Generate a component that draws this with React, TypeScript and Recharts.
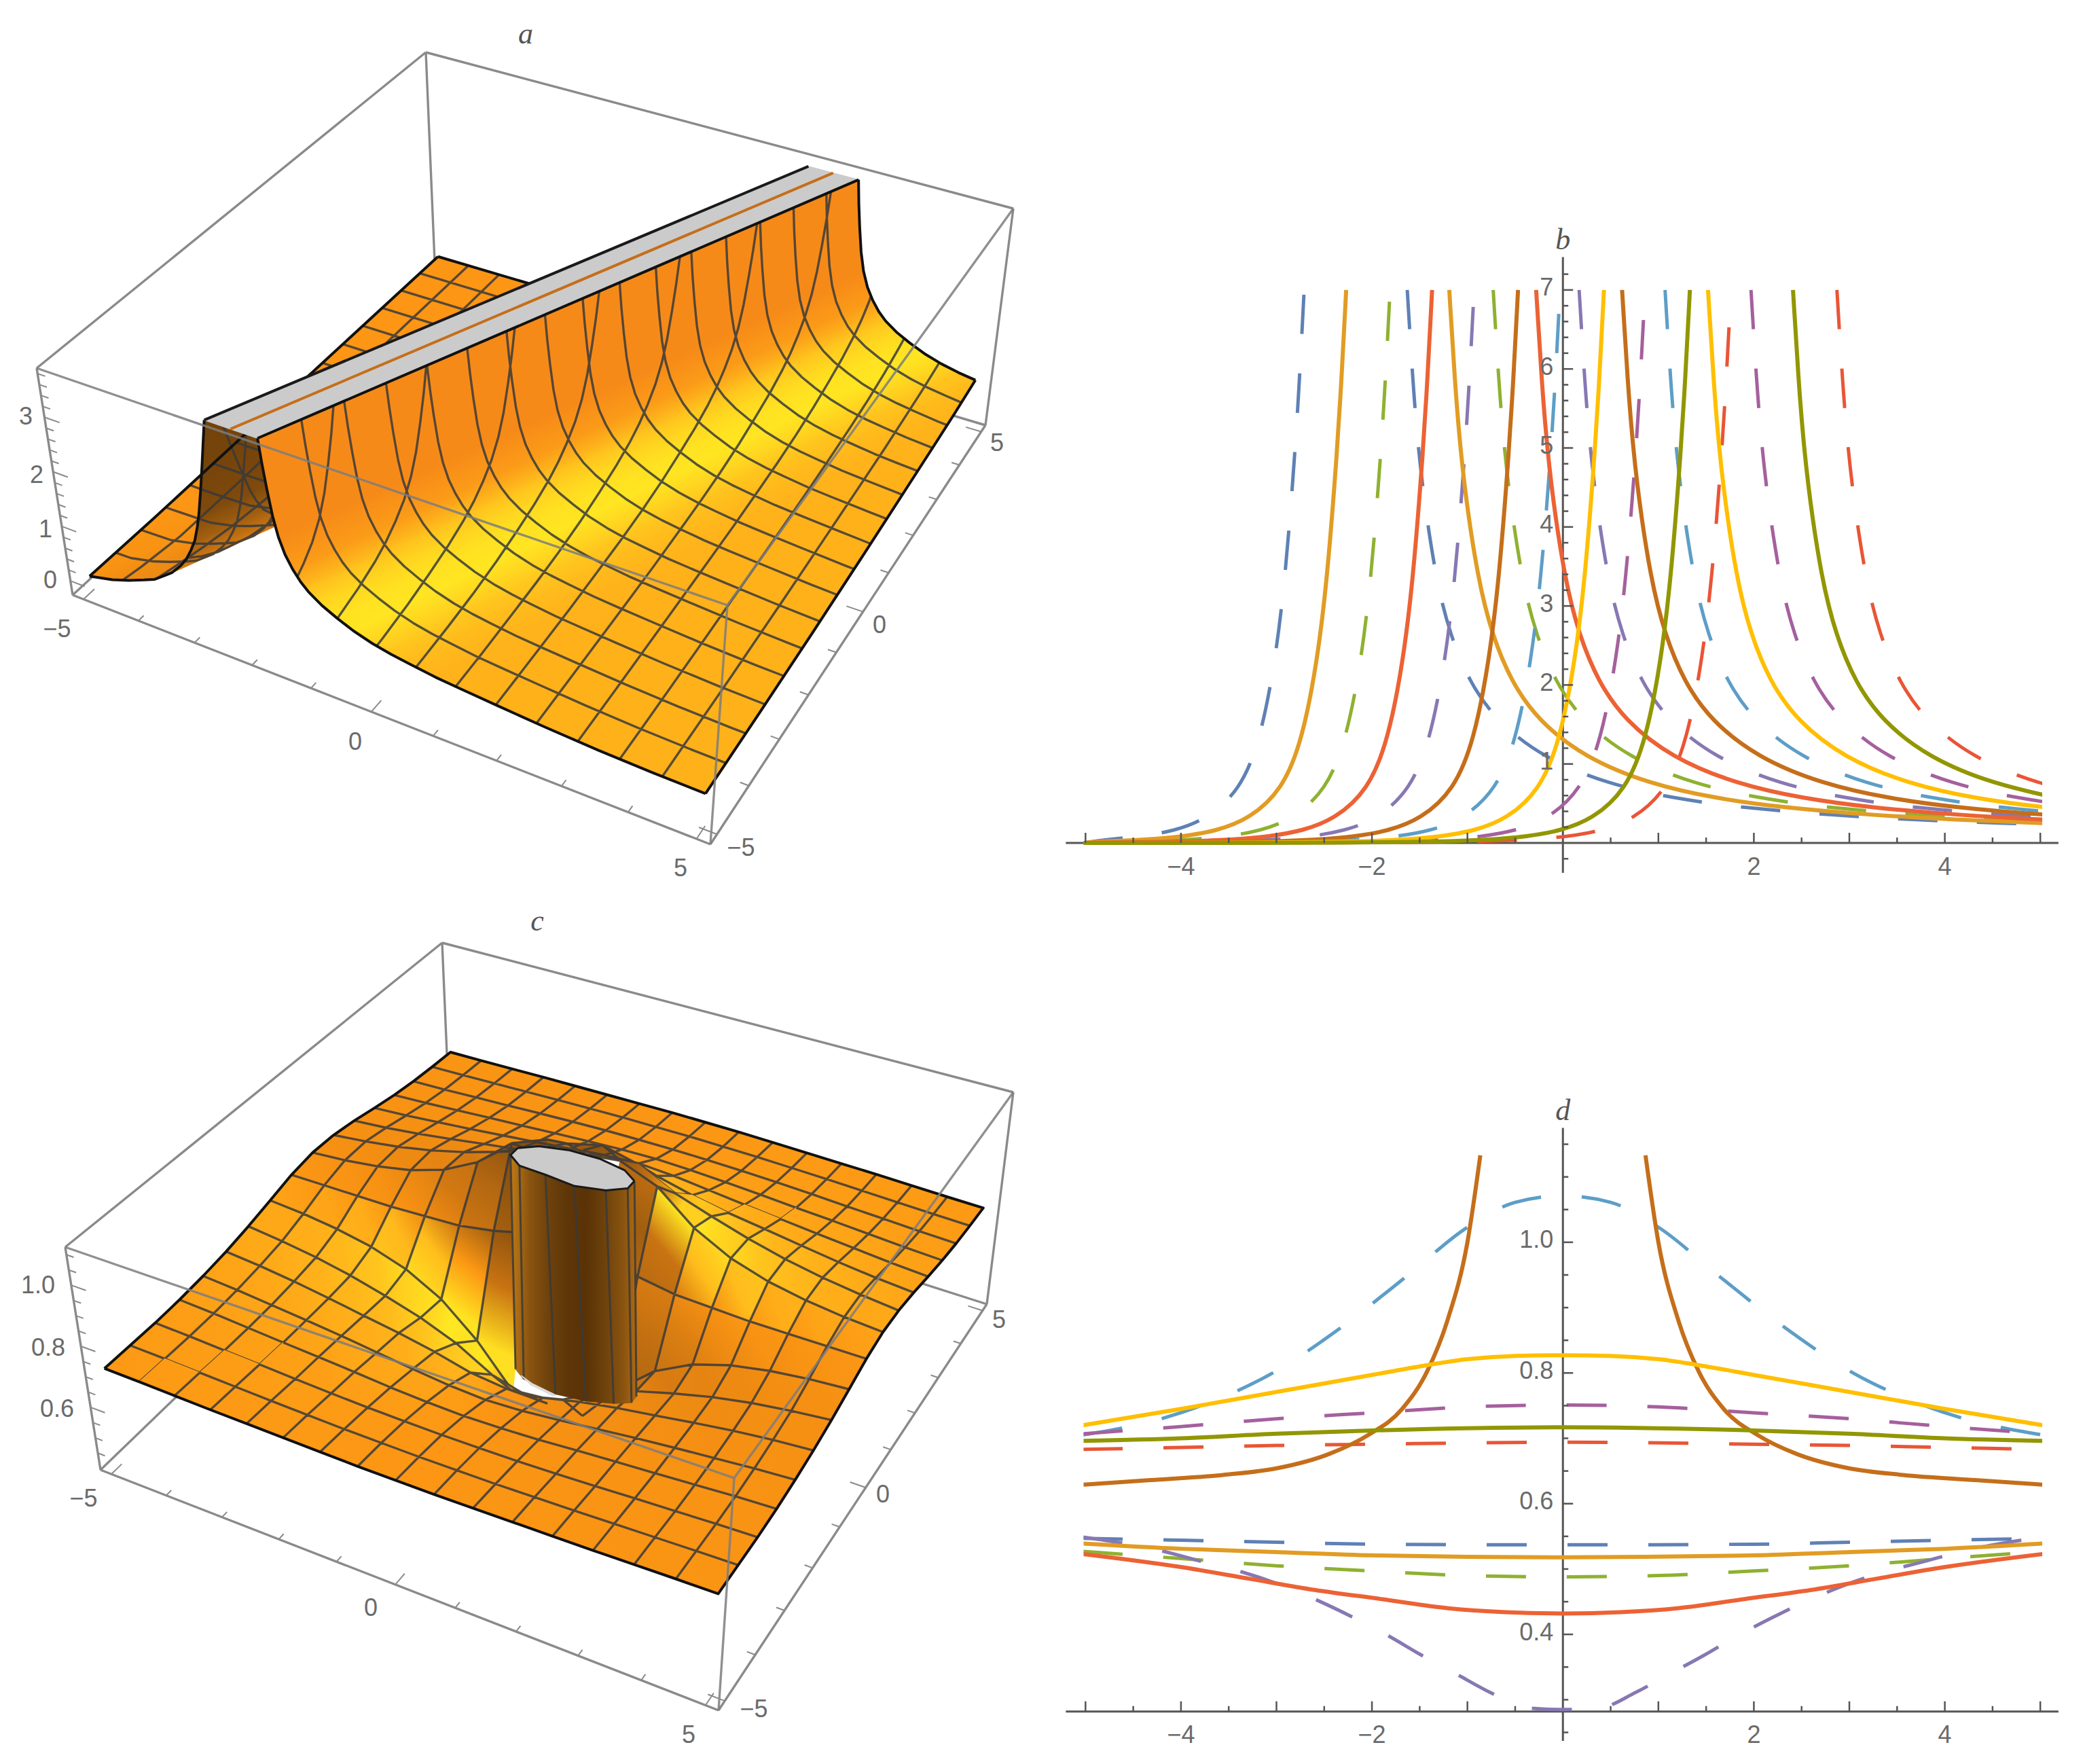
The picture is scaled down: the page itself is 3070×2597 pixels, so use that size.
import React from 'react';
import { ComposedChart, LineChart, Line, Area, Scatter, XAxis, YAxis, ReferenceLine, ReferenceDot } from 'recharts';

// ---------- palette ----------
const C = { blue: '#5E81B5', orange: '#E19C24', green: '#8FB131', red: '#EC6235', purple: '#8778B3', brown: '#C56E1A', sky: '#5D9EC7', yellow: '#FFBF00', magenta: '#A5609D', olive: '#929600', crimson: '#E95536' };

// ---------- panel b : shared height levels, x positions read per curve ----------
const bRiseLevels = [7, 5.6, 4.55, 3.35, 2.32, 1.3, 0.67, 0.3, 0.153, 0.082, 0.041, 0.018, 0.0074, 0.0025, 0.00075, 0.0001];
const bFallLevels = [7, 5.6, 4.55, 3.33, 2.63, 2.04, 1.55, 1.08, 0.746, 0.562, 0.448, 0.355, 0.294, 0.25, 0.217, 0.192];

const bBlueRise = [-2.71, -2.77, -2.83, -2.91, -3.01, -3.17, -3.38, -3.73, -4.07, -4.41, -4.81, -5.31];
const bOrangeRise = [-2.27, -2.33, -2.39, -2.47, -2.57, -2.73, -2.94, -3.29, -3.63, -3.97, -4.37, -4.87, -5.47];
const bGreenRise = [-1.81, -1.87, -1.93, -2.01, -2.11, -2.27, -2.48, -2.83, -3.17, -3.51, -3.91, -4.41, -5.01, -5.81];
const bRedRise = [-1.37, -1.43, -1.49, -1.57, -1.67, -1.83, -2.04, -2.39, -2.73, -3.07, -3.47, -3.97, -4.57, -5.37];
const bPurpleRise = [-0.93, -0.99, -1.05, -1.13, -1.23, -1.39, -1.6, -1.95, -2.29, -2.63, -3.03, -3.53, -4.13, -4.93, -5.93];
const bBrownRise = [-0.47, -0.53, -0.59, -0.67, -0.77, -0.93, -1.14, -1.49, -1.83, -2.17, -2.57, -3.07, -3.67, -4.47, -5.47];
const bSkyRise = [-0.03, -0.09, -0.15, -0.23, -0.33, -0.49, -0.7, -1.05, -1.39, -1.73, -2.13, -2.63, -3.23, -4.03, -5.03];
const bYellowRise = [0.43, 0.37, 0.31, 0.23, 0.13, -0.03, -0.24, -0.59, -0.93, -1.27, -1.67, -2.17, -2.77, -3.57, -4.57, -6.57];
const bMagentaRise = [0.86, 0.8, 0.74, 0.66, 0.56, 0.4, 0.19, -0.16, -0.5, -0.84, -1.24, -1.74, -2.34, -3.14, -4.14, -6.14];
const bOliveRise = [1.33, 1.27, 1.21, 1.13, 1.03, 0.87, 0.66, 0.31, -0.03, -0.37, -0.77, -1.27, -1.87, -2.67, -3.67, -5.67];
const bCrimsonRise = [1.76, 1.7, 1.64, 1.56, 1.46, 1.3, 1.09, 0.74, 0.4, 0.06, -0.34, -0.84, -1.44, -2.24, -3.24, -5.24];

const bBlueFall = [-1.63, -1.56, -1.48, -1.33, -1.18, -0.98, -0.7, -0.21, 0.47, 1.17, 1.87, 2.77, 3.67, 4.57, 5.47];
const bOrangeFall = [-1.19, -1.12, -1.04, -0.89, -0.74, -0.54, -0.26, 0.23, 0.91, 1.61, 2.31, 3.21, 4.11, 5.01, 5.91];
const bGreenFall = [-0.73, -0.66, -0.58, -0.43, -0.28, -0.08, 0.2, 0.69, 1.37, 2.07, 2.77, 3.67, 4.57, 5.47];
const bRedFall = [-0.28, -0.21, -0.13, 0.02, 0.17, 0.37, 0.65, 1.14, 1.82, 2.52, 3.22, 4.12, 5.02, 5.92];
const bPurpleFall = [0.17, 0.24, 0.32, 0.47, 0.62, 0.82, 1.1, 1.59, 2.27, 2.97, 3.67, 4.57, 5.47];
const bBrownFall = [0.62, 0.69, 0.77, 0.92, 1.07, 1.27, 1.55, 2.04, 2.72, 3.42, 4.12, 5.02, 5.92];
const bSkyFall = [1.07, 1.14, 1.22, 1.37, 1.52, 1.72, 2, 2.49, 3.17, 3.87, 4.57, 5.47];
const bYellowFall = [1.52, 1.59, 1.67, 1.82, 1.97, 2.17, 2.45, 2.94, 3.62, 4.32, 5.02, 5.92];
const bMagentaFall = [1.97, 2.04, 2.12, 2.27, 2.42, 2.62, 2.9, 3.39, 4.07, 4.77, 5.47];
const bOliveFall = [2.41, 2.48, 2.56, 2.71, 2.86, 3.06, 3.34, 3.83, 4.51, 5.21];
const bCrimsonFall = [2.87, 2.94, 3.02, 3.17, 3.32, 3.52, 3.8, 4.29, 4.97, 5.67];

// ---------- panel d : curves are even in x, right half read ----------
const dBrownX = [0.865, 1, 1.21, 1.42, 1.69, 2.04, 2.45, 3, 3.56, 4.32, 5.03];
const dBrownY = [1.133, 1.0, 0.88, 0.803, 0.744, 0.705, 0.676, 0.654, 0.644, 0.636, 0.629];
const dYellowX = [0, 0.5, 1, 1.5, 2, 3, 4, 5.03];
const dYellowY = [0.827, 0.826, 0.821, 0.81, 0.797, 0.771, 0.745, 0.72];
const dSkyX = [0, 0.5, 1, 1.62, 2.32, 3.04, 3.77, 4.18, 5.03];
const dSkyY = [1.071, 1.061, 1.023, 0.95, 0.87, 0.8, 0.751, 0.731, 0.705];
const dMagentaX = [0, 1, 2, 3, 4, 5.03];
const dMagentaY = [0.751, 0.748, 0.739, 0.73, 0.718, 0.707];
const dFlatX = [0, 2, 3, 4, 5.03];
const dOliveY = [0.717, 0.712, 0.707, 0.7, 0.696];
const dCrimsonY = [0.694, 0.691, 0.689, 0.686, 0.683];
const dBlueY = [0.537, 0.538, 0.541, 0.544, 0.547];
const dOrangeY = [0.518, 0.521, 0.526, 0.531, 0.539];
const dGreenX = [0, 1, 2, 3, 4, 5.03];
const dGreenY = [0.488, 0.49, 0.497, 0.505, 0.516, 0.527];
const dRedX = [0, 0.6, 1.2, 1.9, 2.6, 3.28, 4, 5.03];
const dRedY = [0.432, 0.434, 0.44, 0.454, 0.468, 0.485, 0.503, 0.523];
const dPurpleX = [0, 0.4, 0.76, 1.1, 1.49, 1.83, 2.21, 2.6, 3, 3.35, 3.77, 4.18, 5.03];
const dPurpleY = [0.285, 0.288, 0.311, 0.338, 0.369, 0.398, 0.427, 0.454, 0.478, 0.495, 0.511, 0.527, 0.549];

// ---------- panel a : ridge profile, height against distance from the ridge line ----------
const aRidgeSlope = 0.448;
const aRidgeOffset = 0.07;
const aCap = 3.8;
const aLeftU = [-7.5, -5, -3.5, -2.83, -2.4, -2.09, -1.8, -1.6, -1.4, -1.27, -1.1, -0.98, -0.88, -0.79, -0.72, -0.67, -0.6, -0.53, -0.42];
const aLeftZ = [0, 0, 0, 0.02, 0.12, 0.23, 0.35, 0.44, 0.59, 0.69, 0.88, 1.05, 1.25, 1.47, 1.75, 2.0, 2.45, 2.95, 3.8];
const aRightU = [0.43, 0.47, 0.52, 0.58, 0.65, 0.74, 0.85, 0.97, 1.1, 1.3, 1.54, 1.8, 2.1, 2.4, 2.7, 3.1, 3.5, 4.07, 4.8, 5.61, 6.4, 7.5];
const aRightZ = [3.8, 3.35, 2.9, 2.45, 2.1, 1.82, 1.6, 1.42, 1.28, 1.13, 1.0, 0.88, 0.78, 0.71, 0.66, 0.6, 0.56, 0.51, 0.45, 0.4, 0.37, 0.35];

// ---------- panel c : height table, rows y=-5..5, columns x=0..5 (even in x) ----------
const cHalfRows = [
  [0.7, 0.7, 0.702, 0.704, 0.706, 0.708, 0.711, 0.714, 0.716],
  [0.693, 0.694, 0.695, 0.698, 0.701, 0.705, 0.709, 0.713, 0.716],
  [0.683, 0.684, 0.686, 0.69, 0.695, 0.701, 0.706, 0.712, 0.716],
  [0.665, 0.668, 0.674, 0.683, 0.691, 0.698, 0.706, 0.714, 0.72],
  [0.64, 0.646, 0.658, 0.672, 0.686, 0.698, 0.709, 0.72, 0.728],
  [0.6, 0.612, 0.64, 0.662, 0.68, 0.699, 0.716, 0.73, 0.74],
  [0.5, 0.53, 0.595, 0.64, 0.674, 0.704, 0.727, 0.744, 0.757],
  [0.4, 0.4, 0.53, 0.63, 0.693, 0.731, 0.754, 0.769, 0.778],
  [1.0, 0.86, 0.83, 0.81, 0.805, 0.8, 0.8, 0.8, 0.8],
  [1.11, 1.11, 1.061, 0.96, 0.897, 0.859, 0.836, 0.821, 0.812],
  [1.06, 1.03, 0.97, 0.929, 0.892, 0.862, 0.839, 0.822, 0.809],
  [0.94, 0.925, 0.895, 0.872, 0.855, 0.837, 0.82, 0.806, 0.796],
  [0.865, 0.858, 0.845, 0.832, 0.82, 0.808, 0.797, 0.786, 0.778],
  [0.815, 0.812, 0.806, 0.799, 0.791, 0.784, 0.776, 0.768, 0.762],
  [0.783, 0.782, 0.78, 0.776, 0.771, 0.765, 0.76, 0.754, 0.75],
  [0.765, 0.764, 0.763, 0.76, 0.757, 0.753, 0.749, 0.745, 0.742],
  [0.752, 0.752, 0.75, 0.748, 0.746, 0.744, 0.741, 0.738, 0.736],
];
const cCapZ = 1.11;
const cFloorZ = 0.4;
const cTopRingX = [1.06, 0.8, 0.34, -0.18, -0.64, -0.9, -0.9, -0.64, -0.18, 0.34, 0.8, 1.06];
const cTopRingY = [0.24, 0.43, 0.53, 0.52, 0.4, 0.2, -0.02, -0.21, -0.24, -0.3, -0.18, 0.02];
const cLowRingX = [1.154, 0.915, 0.5, 0.02, -0.4, -0.64, -0.86, -0.62, 0.0, 0.5, 0.915, 1.154];
const cLowRingY = [0.2, 0.343, 0.421, 0.413, 0.321, 0.17, -0.12, -0.28, -0.36, -0.28, -0.121, 0.03];
const cSliverX = [-0.7, -0.45, 0.02, -0.02, -0.45];
const cSliverY = [-0.22, -0.31, -0.38, -0.42, -0.35];

// ---------- axis text ----------
const xMajor2D = [-4, -2, 2, 4];
const bYLabels = [1, 2, 3, 4, 5, 6, 7];
const dYLabels = [0.4, 0.6, 0.8, 1.0];
const surfaceTicks = [-5, -4, -3, -2, -1, 0, 1, 2, 3, 4, 5];

const seq = (a: number, b: number, s: number) => { const o: number[] = []; for (let i = 0; a + i * s <= b + 1e-9; i++) o.push(+(a + i * s).toFixed(3)); return o; };
const zip = (xs: number[], ys: number[]) => xs.map((x, i) => ({ x, y: ys[i] }));
const riseRows = (xs: number[]) => { const r = zip(xs, bRiseLevels).filter((p) => p.x > -5.02).reverse(); return [{ x: -5.02, y: 0.0005 }, ...r]; };
const mirror = (xs: number[], ys: number[]) => { const l = zip(xs, ys).filter((p) => p.x > 0).map((p) => ({ x: -p.x, y: p.y })).reverse(); return [...l, ...zip(xs, ys)]; };

// ---------- 2D panels ----------
const W2 = 1462; const ML = 26.5; const MR = 24; const XMAX = 5.02;
const AXIS = '#555555'; const TXT = '#6a6a6a'; const FONT = '"Liberation Sans", Arial, sans-serif';
type Curve = { k: string; c: string; dash: boolean; rows: { x: number; y: number }[] };

function Plot2D({ left, top, height, mt, mb, ymin, ymax, cross, yMinor, yMajor, fmt, curves, title, dash, curve }: any) {
  const plotH = height - mt - mb; const plotW = W2 - ML - MR;
  const axisY = mt + (plotH * (ymax - cross)) / (ymax - ymin);
  const axisX = ML + plotW / 2;
  const XTick = (p: any) => {
    const v = p.payload.value; const major = Math.abs(v) % 1 < 1e-6;
    return (<g><line x1={p.x} x2={p.x} y1={axisY} y2={axisY - (major ? 15 : 8)} stroke={AXIS} strokeWidth={2.5} />
      {xMajor2D.includes(v) ? <text x={p.x} y={axisY + 34} textAnchor="middle" dominantBaseline="central" fill={TXT} fontSize={36} fontFamily={FONT}>{v < 0 ? `−${-v}` : v}</text> : null}</g>);
  };
  const YTick = (p: any) => {
    const v = p.payload.value; const major = yMajor.some((m: number) => Math.abs(m - v) < 1e-6);
    return (<g><line x1={axisX} x2={axisX + (major ? 15 : 8)} y1={p.y} y2={p.y} stroke={AXIS} strokeWidth={2.5} />
      {major ? <text x={axisX - 14} y={p.y - 4} textAnchor="end" dominantBaseline="central" fill={TXT} fontSize={36} fontFamily={FONT}>{fmt(v)}</text> : null}</g>);
  };
  return (
    <div style={{ position: 'absolute', left, top }}>
      <LineChart width={W2} height={height} margin={{ top: mt, bottom: mb - 1, left: ML - 1, right: MR }}>
        <XAxis type="number" dataKey="x" domain={[-XMAX, XMAX]} allowDataOverflow height={1} axisLine={false} tickLine={false} ticks={seq(-5, 5, 0.5).filter((t) => t !== 0)} interval={0} tick={XTick} />
        <YAxis type="number" domain={[ymin, ymax]} width={1} axisLine={false} tickLine={false} ticks={yMinor} interval={0} tick={YTick} />
        <ReferenceLine ifOverflow="visible" segment={[{ x: -5.206, y: cross }, { x: 5.19, y: cross }]} stroke={AXIS} strokeWidth={3} />
        <ReferenceLine ifOverflow="visible" segment={[{ x: 0, y: ymin }, { x: 0, y: ymax }]} stroke={AXIS} strokeWidth={3} />
        <ReferenceDot ifOverflow="visible" x={0} y={ymax} r={0} label={{ value: title, position: 'top', offset: 12, fontSize: 44, fontStyle: 'italic', fill: '#555', fontFamily: '"Liberation Serif", serif' }} />
        {curves.map((c: Curve) => (
          <Line key={c.k} data={c.rows} dataKey="y" type={curve} stroke={c.c} strokeWidth={c.dash ? 5 : 6} strokeDasharray={c.dash ? dash : undefined} dot={false} activeDot={false} isAnimationActive={false} legendType="none" />
        ))}
      </LineChart>
    </div>
  );
}

const bCurves: Curve[] = [
  { k: 'blueR', c: C.blue, dash: true, rows: riseRows(bBlueRise) }, { k: 'blueF', c: C.blue, dash: true, rows: zip(bBlueFall, bFallLevels) },
  { k: 'greenR', c: C.green, dash: true, rows: riseRows(bGreenRise) }, { k: 'greenF', c: C.green, dash: true, rows: zip(bGreenFall, bFallLevels) },
  { k: 'purpleR', c: C.purple, dash: true, rows: riseRows(bPurpleRise) }, { k: 'purpleF', c: C.purple, dash: true, rows: zip(bPurpleFall, bFallLevels) },
  { k: 'skyR', c: C.sky, dash: true, rows: riseRows(bSkyRise) }, { k: 'skyF', c: C.sky, dash: true, rows: zip(bSkyFall, bFallLevels) },
  { k: 'magR', c: C.magenta, dash: true, rows: riseRows(bMagentaRise) }, { k: 'magF', c: C.magenta, dash: true, rows: zip(bMagentaFall, bFallLevels) },
  { k: 'crimR', c: C.crimson, dash: true, rows: riseRows(bCrimsonRise) }, { k: 'crimF', c: C.crimson, dash: true, rows: zip(bCrimsonFall, bFallLevels) },
  { k: 'orangeR', c: C.orange, dash: false, rows: riseRows(bOrangeRise) }, { k: 'orangeF', c: C.orange, dash: false, rows: zip(bOrangeFall, bFallLevels) },
  { k: 'redR', c: C.red, dash: false, rows: riseRows(bRedRise) }, { k: 'redF', c: C.red, dash: false, rows: zip(bRedFall, bFallLevels) },
  { k: 'brownR', c: C.brown, dash: false, rows: riseRows(bBrownRise) }, { k: 'brownF', c: C.brown, dash: false, rows: zip(bBrownFall, bFallLevels) },
  { k: 'yellowR', c: C.yellow, dash: false, rows: riseRows(bYellowRise) }, { k: 'yellowF', c: C.yellow, dash: false, rows: zip(bYellowFall, bFallLevels) },
  { k: 'oliveR', c: C.olive, dash: false, rows: riseRows(bOliveRise) }, { k: 'oliveF', c: C.olive, dash: false, rows: zip(bOliveFall, bFallLevels) },
];

const dCurves: Curve[] = [
  { k: 'blue', c: C.blue, dash: true, rows: mirror(dFlatX, dBlueY) },
  { k: 'green', c: C.green, dash: true, rows: mirror(dGreenX, dGreenY) },
  { k: 'purple', c: C.purple, dash: true, rows: mirror(dPurpleX, dPurpleY) },
  { k: 'sky', c: C.sky, dash: true, rows: mirror(dSkyX, dSkyY) },
  { k: 'magenta', c: C.magenta, dash: true, rows: mirror(dMagentaX, dMagentaY) },
  { k: 'crimson', c: C.crimson, dash: true, rows: mirror(dFlatX, dCrimsonY) },
  { k: 'orange', c: C.orange, dash: false, rows: mirror(dFlatX, dOrangeY) },
  { k: 'red', c: C.red, dash: false, rows: mirror(dRedX, dRedY) },
  { k: 'brownL', c: C.brown, dash: false, rows: zip(dBrownX, dBrownY).map((p) => ({ x: -p.x, y: p.y })).reverse() },
  { k: 'brownR', c: C.brown, dash: false, rows: zip(dBrownX, dBrownY) },
  { k: 'yellow', c: C.yellow, dash: false, rows: mirror(dYellowX, dYellowY) },
  { k: 'olive', c: C.olive, dash: false, rows: mirror(dFlatX, dOliveY) },
];

// ---------- 3D view helpers ----------
type Pt = { x: number; y: number };
type Box = { L: Pt; F: Pt; R: Pt; B: Pt; TL: Pt; TF: Pt; TR: Pt; TB: Pt; zmin: number; zmax: number };
const MESH = '#3a3a3a'; const MESHW = 3.4; const MESHOP = 0.85;
const homography = (p00: Pt, p10: Pt, p11: Pt, p01: Pt) => {
  const dx1 = p10.x - p11.x, dx2 = p01.x - p11.x, sx = p00.x - p10.x + p11.x - p01.x;
  const dy1 = p10.y - p11.y, dy2 = p01.y - p11.y, sy = p00.y - p10.y + p11.y - p01.y;
  const den = dx1 * dy2 - dx2 * dy1;
  const g = (sx * dy2 - dx2 * sy) / den, h = (dx1 * sy - sx * dy1) / den;
  const a = p10.x - p00.x + g * p10.x, b = p01.x - p00.x + h * p01.x, c = p00.x;
  const d = p10.y - p00.y + g * p10.y, e = p01.y - p00.y + h * p01.y, f = p00.y;
  return (u: number, v: number): Pt => { const w = g * u + h * v + 1; return { x: (a * u + b * v + c) / w, y: (d * u + e * v + f) / w }; };
};
const makeProj = (b: Box) => {
  const lo = homography(b.L, b.F, b.R, b.B); const hi = homography(b.TL, b.TF, b.TR, b.TB);
  return (x: number, y: number, z: number): Pt => {
    const u = (x + 5.2) / 10.4, v = (y + 5.2) / 10.4, w = (z - b.zmin) / (b.zmax - b.zmin);
    const p = lo(u, v), q = hi(u, v);
    return { x: p.x + (q.x - p.x) * w, y: p.y + (q.y - p.y) * w };
  };
};
const envelope = (poly: Pt[]) => {
  const xs = Array.from(new Set(poly.map((p) => +p.x.toFixed(2)))).sort((a, b) => a - b);
  if (xs.length < 2) return [];
  return xs.map((x) => {
    const ys: number[] = [];
    poly.forEach((p, i) => {
      const q = poly[(i + 1) % poly.length];
      const x1 = +p.x.toFixed(2), x2 = +q.x.toFixed(2);
      if (x < Math.min(x1, x2) || x > Math.max(x1, x2)) return;
      if (x1 === x2) { ys.push(p.y, q.y); return; }
      ys.push(p.y + ((q.y - p.y) * (x - x1)) / (x2 - x1));
    });
    return { x, r: [Math.min(...ys), Math.max(...ys)] };
  });
};
const RAMP: [number, number[]][] = [
  [-15, [0x62, 0x38, 0x08]], [-8, [0x80, 0x4a, 0x0c]], [-4, [0xa4, 0x60, 0x10]], [-1.5, [0xd2, 0x78, 0x12]], [-0.5, [0xf0, 0x8c, 0x12]],
  [0, [0xfc, 0x96, 0x14]], [0.4, [0xff, 0xb0, 0x1a]], [0.9, [0xff, 0xd0, 0x20]], [1.5, [0xff, 0xe8, 0x22]], [3, [0xff, 0xc8, 0x1e]], [6, [0xfb, 0x9c, 0x18]], [12, [0xf6, 0x8a, 0x18]],
];
const shade = (t: number) => {
  const v = Math.max(-15, Math.min(12, t));
  for (let i = 0; i < RAMP.length - 1; i++) {
    const [a, ca] = RAMP[i]; const [b, cb] = RAMP[i + 1];
    if (v <= b) { const f = (v - a) / (b - a); return `rgb(${ca.map((c, k) => Math.round(c + (cb[k] - c) * f)).join(',')})`; }
  }
  return 'rgb(246,138,24)';
};
const grad = (id: string, p0: Pt, p1: Pt, stops: string[], top: number) => (
  <linearGradient key={id} id={id} gradientUnits="userSpaceOnUse" x1={p0.x} y1={p0.y - top} x2={p1.x} y2={p1.y - top}>
    {stops.map((s, i) => <stop key={i} offset={i / (stops.length - 1)} stopColor={s} />)}
  </linearGradient>
);
const BREAK = (p: Pt) => ({ x: p.x, y: null as any });
const joinPaths = (paths: Pt[][]) => { const o: any[] = []; paths.forEach((p) => { if (p.length < 2) return; o.push(...p); o.push(BREAK(p[p.length - 1])); }); return o; };
const polyLine = (k: string, rows: any[], stroke: string, w: number, op = 1) => (
  <Line key={k} data={rows} dataKey="y" type="linear" stroke={stroke} strokeWidth={w} strokeOpacity={op} strokeLinejoin="round" dot={false} activeDot={false} isAnimationActive={false} legendType="none" />
);
const patch = (k: string, poly: Pt[], fill: string) => {
  const rows = envelope(poly); if (!rows.length) return null;
  return <Area key={k} data={rows} dataKey="r" type="linear" fill={fill} fillOpacity={1} stroke={fill} strokeWidth={1.2} dot={false} activeDot={false} isAnimationActive={false} legendType="none" />;
};
const renderLabel = (p: any) => (
  <text x={p.cx} y={p.cy} textAnchor="middle" dominantBaseline="central" fill={p.payload.title ? '#555' : TXT} fontSize={p.payload.title ? 44 : 36} fontStyle={p.payload.title ? 'italic' : 'normal'} fontFamily={p.payload.title ? '"Liberation Serif", serif' : FONT}>{p.payload.text}</text>
);
const boxBack = (b: Box) => [[b.TB, b.TL], [b.TB, b.TR], [b.TB, b.B], [b.B, b.L], [b.B, b.R], [b.L, b.TL], [b.R, b.TR], [b.L, b.F], [b.F, b.R]];
const boxFront = (b: Box) => [[b.TL, b.TF], [b.TF, b.TR], [b.TF, b.F]];
const tickPaths = (b: Box, zMajor: number[], zMinor: number[]) => {
  const P = makeProj(b); const out: Pt[][] = [];
  surfaceTicks.forEach((t) => {
    const len = t % 5 === 0 ? 0.26 : 0.13;
    out.push([P(t, -5.2, b.zmin), P(t, -5.2 + len, b.zmin)]);
    out.push([P(5.2, t, b.zmin), P(5.2 - len, t, b.zmin)]);
  });
  zMajor.forEach((z) => out.push([P(-5.2, -5.2, z), P(-4.94, -5.2, z)]));
  zMinor.forEach((z) => out.push([P(-5.2, -5.2, z), P(-5.07, -5.2, z)]));
  return out;
};
const Layer3D = ({ top, height, children }: any) => (
  <div style={{ position: 'absolute', left: 0, top }}>
    <ComposedChart width={1560} height={height} margin={{ top: 0, bottom: 0, left: 0, right: 0 }}>
      <XAxis type="number" dataKey="x" domain={[0, 1560]} hide />
      <YAxis type="number" dataKey="y" domain={[top, top + height]} reversed hide />
      {children}
    </ComposedChart>
  </div>
);

// ---------- panel a ----------
const aBox: Box = { L: { x: 107, y: 876 }, F: { x: 1046, y: 1243 }, R: { x: 1451, y: 626 }, B: { x: 640, y: 385 }, TL: { x: 54, y: 542 }, TF: { x: 1071, y: 891 }, TR: { x: 1492, y: 307 }, TB: { x: 627, y: 77 }, zmin: -0.26, zmax: 3.9 };
const aP = makeProj(aBox);
const ridge = (y: number) => aRidgeSlope * y + aRidgeOffset;
const clipX = (poly: Pt[]) => {
  const cut = (pts: Pt[], inside: (p: Pt) => boolean, X: number) => {
    const o: Pt[] = [];
    pts.forEach((p, i) => {
      const q = pts[(i + 1) % pts.length];
      if (inside(p)) o.push(p);
      if (inside(p) !== inside(q)) { const f = (X - p.x) / (q.x - p.x); o.push({ x: X, y: p.y + (q.y - p.y) * f }); }
    });
    return o;
  };
  return cut(cut(poly, (p) => p.x >= -5, -5), (p) => p.x <= 5, 5);
};
const stripPoly = (u0: number, z0: number, u1: number, z1: number) => {
  const q = clipX([{ x: u0 + ridge(-5), y: -5 }, { x: u1 + ridge(-5), y: -5 }, { x: u1 + ridge(5), y: 5 }, { x: u0 + ridge(5), y: 5 }]);
  return q.map((p) => { const u = p.x - ridge(p.y); const z = u1 === u0 ? z0 : z0 + ((z1 - z0) * (u - u0)) / (u1 - u0); return aP(p.x, p.y, z); });
};
const aTone = (us: number[], zs: number[], i: number, gain: number, floorTone: number) => {
  const a = Math.max(0, i - 1), b = Math.min(us.length - 1, i + 1);
  const t = -((zs[b] - zs[a]) / (us[b] - us[a])) * gain;
  return gain > 2 ? Math.max(floorTone, t) : t;
};
const stripDefs = (pre: string, us: number[], zs: number[], gain: number) => us.slice(0, -1).map((u, i) => {
  const p0 = aP(u + ridge(0), 0, zs[i]); const p1 = aP(us[i + 1] + ridge(0), 0, zs[i + 1]);
  const e0 = aP(u + ridge(-5), -5, zs[i]); const e1 = aP(u + ridge(5), 5, zs[i]);
  const sx = e1.x - e0.x, sy = e1.y - e0.y, n = Math.hypot(sx, sy);
  const vx = p1.x - p0.x, vy = p1.y - p0.y, dot = (vx * sx + vy * sy) / n;
  const end = { x: p0.x + vx - (dot * sx) / n, y: p0.y + vy - (dot * sy) / n };
  return grad(`${pre}g${i}`, p0, end, [shade(aTone(us, zs, i, gain, 0.42)), shade(aTone(us, zs, i + 1, gain, 0.42))], 0);
});
const strips = (pre: string, us: number[], zs: number[]) => us.slice(0, -1).map((u, i) => patch(`${pre}${i}`, stripPoly(u, zs[i], us[i + 1], zs[i + 1]), `url(#${pre}g${i})`));
const zAt = (us: number[], zs: number[], u: number) => {
  for (let i = 0; i < us.length - 1; i++) if (u <= us[i + 1]) return zs[i] + ((zs[i + 1] - zs[i]) * (u - us[i])) / (us[i + 1] - us[i]);
  return zs[zs.length - 1];
};
const alongU = (us: number[], zs: number[], lo: number, hi: number, at: (u: number) => Pt) => {
  const a = Math.max(lo, us[0]), b = Math.min(hi, us[us.length - 1]);
  if (a >= b) return [];
  const nodes = [a, ...us.filter((u) => u > a && u < b), b];
  return nodes.map((u) => { const p = at(u); return aP(p.x, p.y, zAt(us, zs, u)); });
};
const meshLevels = seq(-4.375, 4.375, 0.625);
const aMesh = (us: number[], zs: number[]) => {
  const out: Pt[][] = [];
  meshLevels.forEach((m) => {
    const c0 = ridge(-5), c1 = ridge(5);
    out.push(alongU(us, zs, m - c1, m - c0, (u) => ({ x: m, y: (m - u - aRidgeOffset) / aRidgeSlope })));
    const c = ridge(m);
    out.push(alongU(us, zs, -5 - c, 5 - c, (u) => ({ x: u + c, y: m })));
  });
  return out;
};
const aEdges = (us: number[], zs: number[]) => {
  const out: Pt[][] = [];
  [-5, 5].forEach((m) => { const c = ridge(m); out.push(alongU(us, zs, -5 - c, 5 - c, (u) => ({ x: u + c, y: m }))); });
  [-5, 5].forEach((m) => { const c0 = ridge(-5), c1 = ridge(5); out.push(alongU(us, zs, m - c1, m - c0, (u) => ({ x: m, y: (m - u - aRidgeOffset) / aRidgeSlope }))); });
  return out;
};
const ridgeEdge = (u: number) => [-5, 5].map((y) => aP(u + ridge(y), y, aCap));

const aLabels = [
  { x: 774, y: 49, text: 'a', title: true },
  { x: 84, y: 925, text: '−5' }, { x: 523, y: 1091, text: '0' }, { x: 1002, y: 1277, text: '5' },
  { x: 1091, y: 1247, text: '−5' }, { x: 1295, y: 919, text: '0' }, { x: 1468, y: 651, text: '5' },
  { x: 38, y: 612, text: '3' }, { x: 54, y: 698, text: '2' }, { x: 67, y: 778, text: '1' }, { x: 74, y: 853, text: '0' },
];

function PanelA() {
  const T = 0; const H = 1330;
  return (
    <>
      <Layer3D top={T} height={H}>
        {polyLine('aback', joinPaths(boxBack(aBox)), '#8a8a8a', 3.4)}
      </Layer3D>
      <Layer3D top={T} height={H}>
        <defs>{stripDefs('al2', aLeftU, aLeftZ, 1.4)}</defs>
        {strips('al2', aLeftU, aLeftZ)}
        {polyLine('amL', joinPaths(aMesh(aLeftU, aLeftZ)), MESH, MESHW, MESHOP)}
        {polyLine('aeL', joinPaths(aEdges(aLeftU, aLeftZ)), '#111', 4)}
      </Layer3D>
      <Layer3D top={T} height={H}>
        {patch('acap', stripPoly(-0.42, aCap, 0.43, aCap), '#CBCBCB')}
        {polyLine('acen', ridgeEdge(0), C.brown, 4)}
        {polyLine('acapL', ridgeEdge(-0.42), '#1a1a1a', 4)}
      </Layer3D>
      <Layer3D top={T} height={H}>
        <defs>{stripDefs('ar', aRightU, aRightZ, 3.6)}</defs>
        {strips('ar', aRightU, aRightZ)}
        {polyLine('amR', joinPaths(aMesh(aRightU, aRightZ)), MESH, MESHW, MESHOP)}
        {polyLine('aeR', joinPaths(aEdges(aRightU, aRightZ)), '#111', 4)}
        {polyLine('acapR', ridgeEdge(0.43), '#111', 4)}
      </Layer3D>
      <Layer3D top={T} height={H}>
        {polyLine('afront', joinPaths(boxFront(aBox)), '#7c7c7c', 3.4, 0.85)}
        {polyLine('aticks', joinPaths(tickPaths(aBox, [0, 1, 2, 3], seq(0.2, 3.8, 0.2))), '#8a8a8a', 2)}
        <Scatter data={aLabels} isAnimationActive={false} shape={renderLabel} legendType="none" />
      </Layer3D>
    </>
  );
}

// ---------- panel c ----------
const cBox: Box = { L: { x: 148, y: 2164 }, F: { x: 1058, y: 2518 }, R: { x: 1453, y: 1920 }, B: { x: 663, y: 1668 }, TL: { x: 96, y: 1836 }, TF: { x: 1081, y: 2176 }, TR: { x: 1492, y: 1608 }, TB: { x: 651, y: 1388 }, zmin: 0.395, zmax: 1.125 };
const cP = makeProj(cBox);
const cNodes = seq(-5, 5, 0.625);
const cRows = cHalfRows.map((r) => [...r.slice(1).reverse(), ...r]);
const isCore = (i: number, j: number) => (i === 7 || i === 8) && (j === 7 || j === 8);
const nodeP = (i: number, j: number) => cP(cNodes[i], cNodes[j], cRows[j][i]);
const depth = (x: number, y: number) => x - 0.9 * y;
const nodeT = (i: number, j: number) => {
  const a = Math.max(0, i - 1), b = Math.min(16, i + 1), c = Math.max(0, j - 1), d = Math.min(16, j + 1);
  const sx = ((cRows[j][b] - cRows[j][a]) / (cNodes[b] - cNodes[a])) * (10.4 / 0.73);
  const sy = ((cRows[d][i] - cRows[c][i]) / (cNodes[d] - cNodes[c])) * (10.4 / 0.73);
  return -sx - 0.8 * Math.max(0, sy - 1.8) - 40 * Math.max(0, cRows[j][i] - 0.95);
};

const cLabels = [
  { x: 791, y: 1355, text: 'c', title: true },
  { x: 123, y: 2205, text: '−5' }, { x: 546, y: 2366, text: '0' }, { x: 1014, y: 2553, text: '5' },
  { x: 1110, y: 2515, text: '−5' }, { x: 1300, y: 2199, text: '0' }, { x: 1471, y: 1942, text: '5' },
  { x: 56, y: 1891, text: '1.0' }, { x: 71, y: 1983, text: '0.8' }, { x: 84, y: 2073, text: '0.6' },
];

function PanelC() {
  const T = 1330; const H = 1267;
  const defs: any[] = []; const back: any[] = []; const front: any[] = [];
  const order: [number, number][] = [];
  for (let j = 0; j < 16; j++) for (let i = 0; i < 16; i++) order.push([i, j]);
  order.sort((a, b) => depth(cNodes[a[0]], cNodes[a[1]]) - depth(cNodes[b[0]], cNodes[b[1]]));
  order.forEach(([i, j]) => {
    if (isCore(i, j)) return;
    const id = `cg${i}_${j}`;
    const mid = shade((nodeT(i + 1, j) + nodeT(i, j + 1)) / 2);
    defs.push(grad(id, nodeP(i, j), nodeP(i + 1, j + 1), [shade(nodeT(i, j)), mid, shade(nodeT(i + 1, j + 1))], T));
    const el = patch(`c${i}_${j}`, [nodeP(i, j), nodeP(i + 1, j), nodeP(i + 1, j + 1), nodeP(i, j + 1)], `url(#${id})`);
    (depth(cNodes[i] + 0.31, cNodes[j] + 0.31) < 0 ? back : front).push(el);
  });
  const segBack: Pt[][] = []; const segFront: Pt[][] = [];
  const addSeg = (i: number, j: number, i2: number, j2: number) => {
    const core = Math.abs(cNodes[i]) < 0.7 && Math.abs(cNodes[j]) < 0.7 && Math.abs(cNodes[i2]) < 0.7 && Math.abs(cNodes[j2]) < 0.7;
    if (core) return;
    const d = depth((cNodes[i] + cNodes[i2]) / 2, (cNodes[j] + cNodes[j2]) / 2);
    (d < 0 ? segBack : segFront).push([nodeP(i, j), nodeP(i2, j2)]);
  };
  for (let a = 1; a < 16; a++) for (let b = 0; b < 16; b++) { addSeg(a, b, a, b + 1); addSeg(b, a, b + 1, a); }
  const edge: Pt[] = [];
  for (let i = 0; i <= 16; i++) edge.push(nodeP(i, 0));
  for (let j = 1; j <= 16; j++) edge.push(nodeP(16, j));
  for (let i = 15; i >= 0; i--) edge.push(nodeP(i, 16));
  for (let j = 15; j >= 0; j--) edge.push(nodeP(0, j));
  const topRing = cTopRingX.map((x, i) => cP(x, cTopRingY[i], cCapZ));
  const lowRing = cLowRingX.map((x, i) => cP(x, cLowRingY[i], cFloorZ));
  const sliver = cSliverX.map((x, i) => cP(x, cSliverY[i], cFloorZ));
  const under = [nodeP(5, 5), nodeP(11, 5), nodeP(11, 11), nodeP(5, 11)];
  const idx = [6, 7, 8, 9, 10, 11, 0];
  const wall = [...idx.map((i) => topRing[i]), ...idx.slice().reverse().map((i) => lowRing[i])];
  return (
    <>
      <Layer3D top={T} height={H}>
        <defs>{defs}</defs>
        {polyLine('cback', joinPaths(boxBack(cBox)), '#8a8a8a', 3.4)}
      </Layer3D>
      <Layer3D top={T} height={H}>
        {patch('cunder', under, '#B07012')}
      </Layer3D>
      <Layer3D top={T} height={H}>
        {back}
        {polyLine('cmB', joinPaths(segBack), MESH, MESHW, MESHOP)}
      </Layer3D>
      <Layer3D top={T} height={H}>
        {front}
        {polyLine('cmF', joinPaths(segFront), MESH, MESHW, MESHOP)}
      </Layer3D>
      <Layer3D top={T} height={H}>
        <defs>
          <linearGradient id="wallGrad" x1="0" x2="1" y1="0" y2="0">
            <stop offset="0" stopColor="#C07A14" /><stop offset="0.15" stopColor="#8A5410" /><stop offset="0.3" stopColor="#6E420C" /><stop offset="0.45" stopColor="#5E3608" /><stop offset="0.6" stopColor="#5A3206" /><stop offset="0.75" stopColor="#6E420C" /><stop offset="0.9" stopColor="#8A5410" /><stop offset="1" stopColor="#B06A10" />
          </linearGradient>
        </defs>
        {patch('cwall', wall, 'url(#wallGrad)')}
        {polyLine('cwl', joinPaths(idx.map((i) => [topRing[i], lowRing[i]])), MESH, 3, MESHOP)}
      </Layer3D>
      <Layer3D top={T} height={H}>
        {patch('chole', sliver, '#DADADA')}
        {patch('ccap', topRing, '#CBCBCB')}
        {polyLine('ccapE', [...topRing, topRing[0]], '#1a1a1a', 3)}
        {polyLine('cedge', edge, '#111', 4)}
      </Layer3D>
      <Layer3D top={T} height={H}>
        {polyLine('cfront', joinPaths(boxFront(cBox)), '#7c7c7c', 3.4, 0.85)}
        {polyLine('cticks', joinPaths(tickPaths(cBox, [0.6, 0.8, 1.0], [0.45, 0.5, 0.55, 0.65, 0.7, 0.75, 0.85, 0.9, 0.95, 1.05, 1.1])), '#8a8a8a', 2)}
        <Scatter data={cLabels} isAnimationActive={false} shape={renderLabel} legendType="none" />
      </Layer3D>
    </>
  );
}

export default function App() {
  return (
    <div style={{ position: 'absolute', left: 0, top: 0, width: 3070, height: 2597, background: '#fff', overflow: 'hidden' }}>
      <PanelA />
      <PanelC />
      <Plot2D left={1569} top={320} height={1000} mt={58.5} mb={35} ymin={-0.378} ymax={7.416} cross={0} yMinor={seq(-0.2, 7.2, 0.2).filter((t) => Math.abs(t) > 1e-6)} yMajor={bYLabels} fmt={(v: number) => `${v}`} curves={bCurves} title="b" dash="58 58" curve="basis" />
      <Plot2D left={1569} top={1600} height={997} mt={60.5} mb={34} ymin={0.237} ymax={1.175} cross={0.282} yMinor={seq(0.25, 1.15, 0.05)} yMajor={dYLabels} fmt={(v: number) => v.toFixed(1)} curves={dCurves} title="d" dash="59 60" curve="monotone" />
    </div>
  );
}
